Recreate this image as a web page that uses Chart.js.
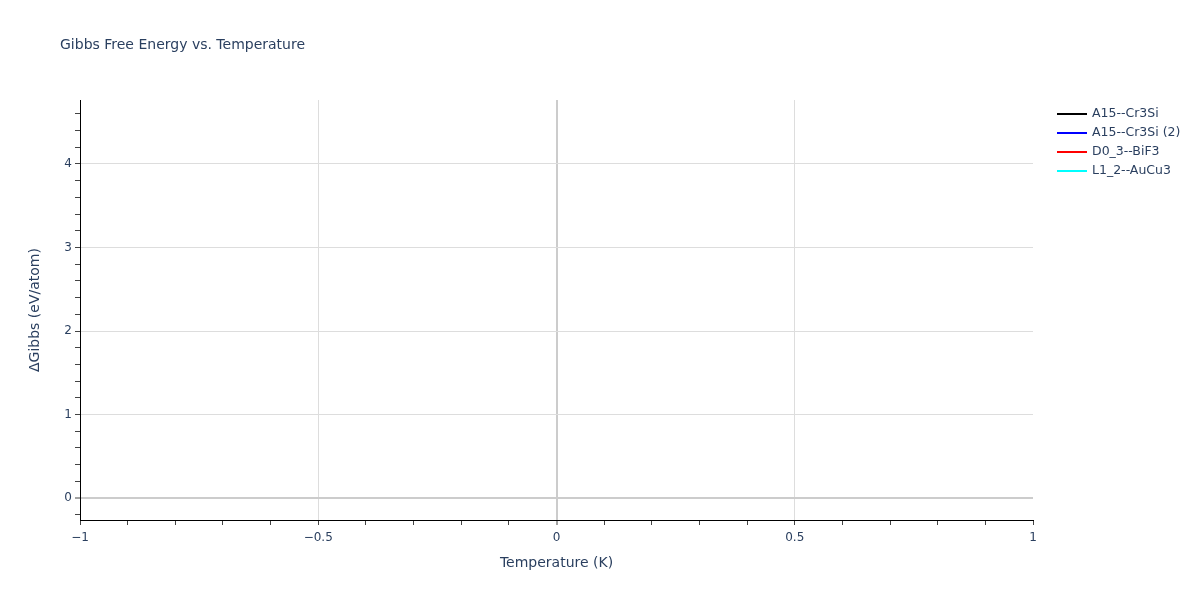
<!DOCTYPE html>
<html>
<head>
<meta charset="utf-8">
<script src="https://cdn.jsdelivr.net/npm/chart.js@4.4.1/dist/chart.umd.min.js"></script>
<style>
    html, body { margin: 0; padding: 0; background: #fff; }
    #wrap { width: 1200px; height: 600px; }
</style>
</head>
<body>
<div id="wrap"><canvas id="gibbsChart" width="1200" height="600"></canvas></div>
<script>
// series names and colours, one value per series (each series holds a single point at T = 0)
const seriesNames = ["A15--Cr3Si", "A15--Cr3Si (2)", "D0_3--BiF3", "L1_2--AuCu3"];
const seriesColors = ["#000000", "#0000ff", "#ff0000", "#00ffff"];
const temperatures = [0];
const gibbsA15 = [0];
const gibbsA15b = [0];
const gibbsD03 = [4.5];
const gibbsL12 = [0];

const xTickLabels = { "-1": "\u22121", "-0.5": "\u22120.5", "0": "0", "0.5": "0.5", "1": "1" };
const yTickLabels = ["0", "1", "2", "3", "4"];

const textColor = "#2a3f5f";
const fontFamily = "'DejaVu Sans', Verdana, sans-serif";

document.addEventListener("DOMContentLoaded", function () {
    initGibbsChart();
});

function toPoints(values) {
    return values.map(function (v, i) { return {x: temperatures[i], y: v}; });
}

function isMultiple(v, step) {
    const r = v / step;
    return Math.abs(r - Math.round(r)) < 1e-6;
}

// titles and legend drawn on the canvas
const decorations = {
    id: "decorations",
    afterDraw: function (chart) {
        const c = chart.ctx;
        const area = chart.chartArea;
        c.save();
        c.fillStyle = textColor;
        c.textBaseline = "middle";

        c.font = "14px " + fontFamily;
        c.textAlign = "left";
        c.fillText("Gibbs Free Energy vs. Temperature", 60, 45);

        c.font = "14px " + fontFamily;
        c.textAlign = "center";
        c.fillText("Temperature (K)", (area.left + area.right) / 2, 563);

        c.save();
        c.translate(35, (area.top + area.bottom) / 2);
        c.rotate(-Math.PI / 2);
        c.fillText("\u0394Gibbs (eV/atom)", 0, 0);
        c.restore();

        // legend
        c.font = "12.5px " + fontFamily;
        c.textAlign = "left";
        chart.data.datasets.forEach(function (ds, i) {
            const y = 114 + i * 19;
            c.strokeStyle = ds.borderColor;
            c.lineWidth = 2;
            c.beginPath();
            c.moveTo(1057, y);
            c.lineTo(1087, y);
            c.stroke();
            c.fillStyle = textColor;
            c.fillText(ds.label, 1092, y);
        });
        c.restore();
    }
};

function initGibbsChart() {
    const ctx = document.getElementById("gibbsChart");
    const seriesValues = [gibbsA15, gibbsA15b, gibbsD03, gibbsL12];

    new Chart(ctx, {
        type: "line",
        data: {
            datasets: seriesNames.map(function (name, i) {
                return {
                    label: name,
                    data: toPoints(seriesValues[i]),
                    borderColor: seriesColors[i],
                    backgroundColor: seriesColors[i],
                    borderWidth: 2,
                    pointRadius: 0,
                    fill: false
                };
            })
        },
        options: {
            responsive: false,
            animation: false,
            layout: {padding: {left: 0, top: 100, right: 167, bottom: 0}},
            plugins: {
                legend: {display: false},
                title: {display: false},
                tooltip: {enabled: false}
            },
            scales: {
                x: {
                    type: "linear",
                    min: -1,
                    max: 1,
                    afterFit: function (scale) { scale.height = 80; },
                    border: {display: true, color: "#000000", width: 1},
                    grid: {
                        drawOnChartArea: true,
                        tickLength: 5,
                        color: function (c) {
                            const v = c.tick ? c.tick.value : 0;
                            if (Math.abs(v) < 1e-6) return "#cccccc";
                            if (Math.abs(Math.abs(v) - 1) < 1e-6) return "rgba(0,0,0,0)";
                            return isMultiple(v, 0.5) ? "#dddddd" : "rgba(0,0,0,0)";
                        },
                        lineWidth: function (c) {
                            const v = c.tick ? c.tick.value : 0;
                            return Math.abs(v) < 1e-6 ? 2 : 1;
                        },
                        tickColor: "#444444",
                        tickWidth: 1
                    },
                    ticks: {
                        stepSize: 0.1,
                        includeBounds: false,
                        autoSkip: false,
                        maxRotation: 0,
                        padding: 6,
                        color: textColor,
                        font: {family: fontFamily, size: 12},
                        callback: function (value) {
                            if (!isMultiple(value, 0.5)) return "";
                            const key = String(Math.round(value * 2) / 2);
                            return xTickLabels[key] || "";
                        }
                    }
                },
                y: {
                    type: "linear",
                    min: -0.263,
                    max: 4.766,
                    afterFit: function (scale) { scale.width = 80; },
                    border: {display: true, color: "#000000", width: 1},
                    grid: {
                        tickLength: 5,
                        color: function (c) {
                            const v = c.tick ? c.tick.value : 0;
                            if (Math.abs(v) < 1e-6) return "#cccccc";
                            return isMultiple(v, 1) ? "#dddddd" : "rgba(0,0,0,0)";
                        },
                        lineWidth: function (c) {
                            const v = c.tick ? c.tick.value : 0;
                            return Math.abs(v) < 1e-6 ? 2 : 1;
                        },
                        tickColor: "#444444",
                        tickWidth: 1
                    },
                    ticks: {
                        stepSize: 0.2,
                        includeBounds: false,
                        autoSkip: false,
                        padding: 3,
                        color: textColor,
                        font: {family: fontFamily, size: 12},
                        callback: function (value) {
                            if (!isMultiple(value, 1)) return "";
                            const idx = Math.round(value);
                            return yTickLabels[idx] !== undefined ? yTickLabels[idx] : "";
                        }
                    }
                }
            }
        },
        plugins: [decorations]
    });
}
</script>
</body>
</html>
